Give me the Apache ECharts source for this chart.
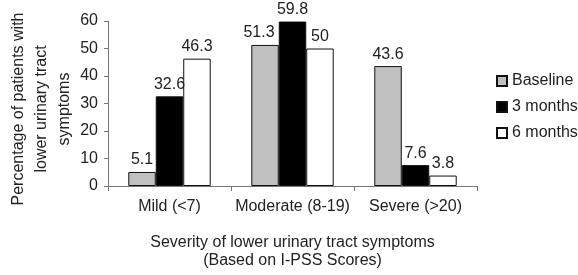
<!DOCTYPE html>
<html>
<head>
<meta charset="utf-8">
<script src="https://cdn.jsdelivr.net/npm/echarts@6/dist/echarts.min.js"></script>
<style>
  html, body { margin: 0; padding: 0; background: #fff; }
  #chart { width: 578px; height: 275px; }
</style>
</head>
<body>
<div id="chart"></div>
<script>
// data
const categories = ['Mild (<7)', 'Moderate (8-19)', 'Severe (>20)']
const baseline = [5.1, 51.3, 43.6]
const threeMonths = [32.6, 59.8, 7.6]
const sixMonths = [46.3, 50, 3.8]
const yTicks = [0, 10, 20, 30, 40, 50, 60]

const font = 'Liberation Sans, Arial, sans-serif'
const txt = '#222'
const fs = 16

const chart = echarts.init(document.getElementById('chart'))

function bar (name, data, color) {
  return {
    name: name,
    type: 'bar',
    data: data,
    barGap: '0%',
    barCategoryGap: '33%',
    itemStyle: { color: color, borderColor: '#111', borderWidth: 1 },
    label: {
      show: true,
      position: 'top',
      distance: 4,
      color: txt,
      fontFamily: font,
      fontSize: fs
    }
  }
}

const baseSeries = bar('Baseline', baseline, '#c0c0c0')
// the 51.3 label sits a bit left so it clears 59.8
baseSeries.data = baseline.map((v, i) => i === 1 ? { value: v, label: { offset: [-6, 0] } } : v)

chart.setOption({
  animation: false,
  grid: { left: 108, right: 101, top: 21, bottom: 83 },
  legend: {
    orient: 'vertical',
    left: 491,
    top: 68,
    itemWidth: 10,
    itemHeight: 10,
    itemGap: 10,
    icon: 'rect',
    textStyle: { color: txt, fontFamily: font, fontSize: fs }
  },
  xAxis: {
    type: 'category',
    data: categories,
    name: 'Severity of lower urinary tract symptoms\n(Based on I-PSS Scores)',
    nameLocation: 'middle',
    nameGap: 48,
    nameTextStyle: { color: txt, fontFamily: font, fontSize: fs, lineHeight: 18 },
    axisLine: { lineStyle: { color: '#777' } },
    axisTick: { show: true, length: 5, lineStyle: { color: '#777' } },
    axisLabel: { color: txt, fontFamily: font, fontSize: fs, margin: 13, interval: 0 }
  },
  yAxis: {
    type: 'value',
    min: yTicks[0],
    max: yTicks[yTicks.length - 1],
    interval: 10,
    axisLine: { show: true, lineStyle: { color: '#777' } },
    axisTick: { show: true, length: 4, lineStyle: { color: '#777' } },
    splitLine: { show: false },
    axisLabel: { color: txt, fontFamily: font, fontSize: fs, margin: 10 }
  },
  graphic: [{
    type: 'text',
    x: 42,
    y: 109,
    rotation: Math.PI / 2,
    style: {
      text: 'Percentage of patients with\nlower urinary tract\nsymptoms',
      fill: txt,
      font: fs + 'px ' + font,
      lineHeight: 23,
      align: 'center',
      verticalAlign: 'middle'
    }
  }],
  series: [
    baseSeries,
    bar('3 months', threeMonths, '#000'),
    bar('6 months', sixMonths, '#fff')
  ]
})
</script>
</body>
</html>
